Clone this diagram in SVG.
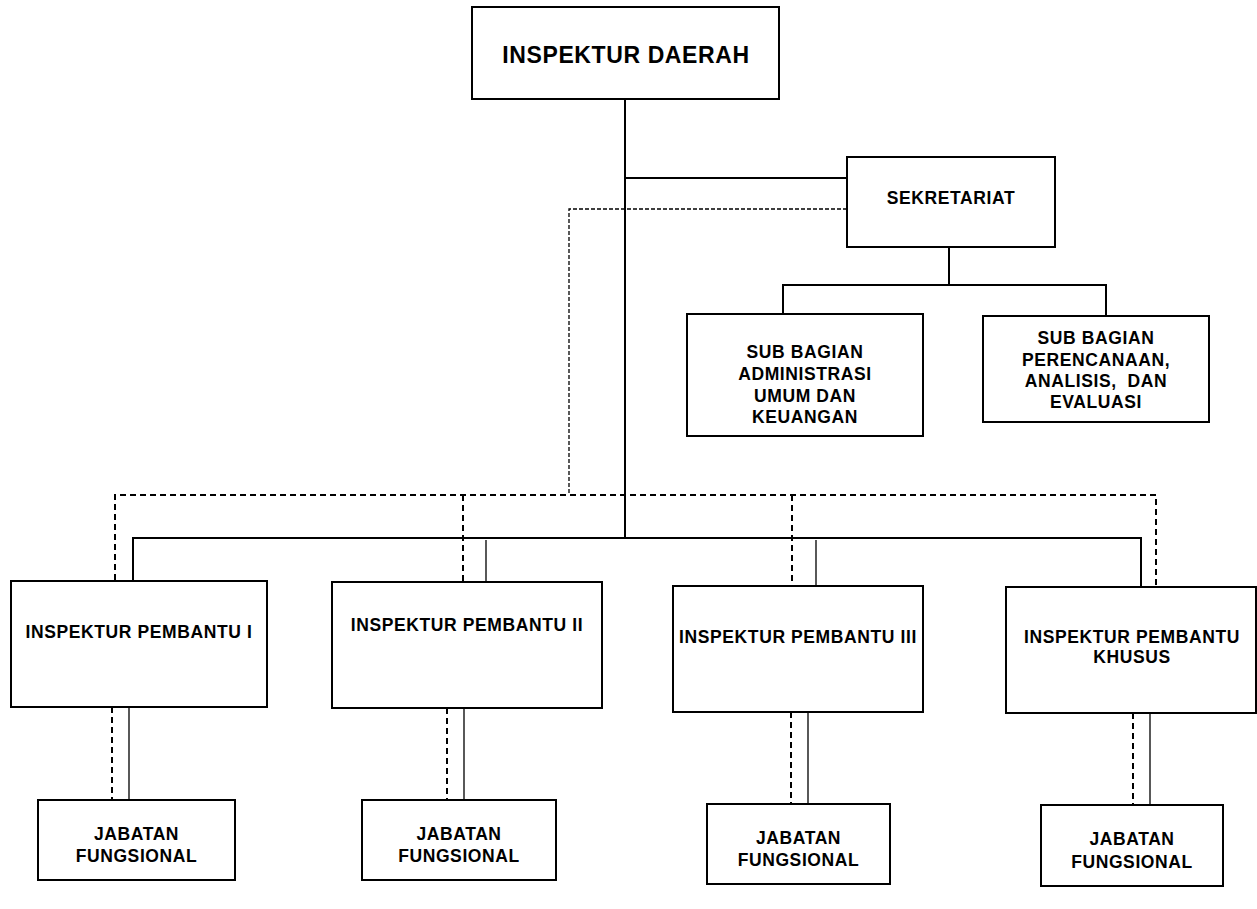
<svg xmlns="http://www.w3.org/2000/svg" width="1257" height="909" viewBox="0 0 1257 909">
<style>
.box{fill:#fff;stroke:#000;stroke-width:2}
.t{font-family:"Liberation Sans",Arial,sans-serif;font-weight:bold;fill:#000;text-anchor:middle;letter-spacing:0.6px}
.s{font-size:17.5px}
.solid{fill:none;stroke:#000;stroke-width:2}
.thin{fill:none;stroke:#000;stroke-width:1.3}
.dash{fill:none;stroke:#000;stroke-width:2;stroke-dasharray:6,4}
.dot{fill:none;stroke:#000;stroke-width:1.3;stroke-dasharray:4,2}
</style>
<rect width="1257" height="909" fill="#fff"/>
<g id="connectors">
<path class="solid" d="M625,99 V538 M625,178 H847 M133,581 V538 H1141 V587"/>
<path class="thin" d="M486,540 V582 M816,540 V586"/>
<path class="solid" d="M949,247 V285 M783,314 V285 H1106 V316"/>
<path class="dot" d="M847,209 H569 V495"/>
<path class="dash" d="M115,580 V495 H1156 L1156,590 M463,495 V582 M792,495 V586"/>
<path class="dash" d="M112,707 V800 M447,708 V800 M791,712 V804 M1133,713 V805"/>
<path class="thin" d="M129,707 V800 M464,708 V800 M808,712 V804 M1150,713 V805"/>
</g>
<g id="inspektur-daerah">
<rect class="box" x="472" y="7" width="307" height="92"/>
<text class="t" x="626" y="63" font-size="23">INSPEKTUR DAERAH</text>
</g>
<g id="sekretariat">
<rect class="box" x="847" y="157" width="208" height="90"/>
<text class="t s" x="951" y="204">SEKRETARIAT</text>
</g>
<g id="sub-bagian-umum">
<rect class="box" x="687" y="314" width="236" height="122"/>
<text class="t s" x="805" y="358">SUB BAGIAN</text>
<text class="t s" x="805" y="380">ADMINISTRASI</text>
<text class="t s" x="805" y="402">UMUM DAN</text>
<text class="t s" x="805" y="423">KEUANGAN</text>
</g>
<g id="sub-bagian-perencanaan">
<rect class="box" x="983" y="316" width="226" height="106"/>
<text class="t s" x="1096" y="344">SUB BAGIAN</text>
<text class="t s" x="1096" y="366">PERENCANAAN,</text>
<text class="t s" x="1096" y="387" xml:space="preserve">ANALISIS,  DAN</text>
<text class="t s" x="1096" y="408">EVALUASI</text>
</g>
<g id="pembantu-1">
<rect class="box" x="11" y="581" width="256" height="126"/>
<text class="t s" x="139" y="638">INSPEKTUR PEMBANTU I</text>
</g>
<g id="pembantu-2">
<rect class="box" x="332" y="582" width="270" height="126"/>
<text class="t s" x="467" y="631">INSPEKTUR PEMBANTU II</text>
</g>
<g id="pembantu-3">
<rect class="box" x="673" y="586" width="250" height="126"/>
<text class="t s" x="798" y="643">INSPEKTUR PEMBANTU III</text>
</g>
<g id="pembantu-khusus">
<rect class="box" x="1006" y="587" width="250" height="126"/>
<text class="t s" x="1132" y="643">INSPEKTUR PEMBANTU</text>
<text class="t s" x="1132" y="663">KHUSUS</text>
</g>
<g id="jabatan-1">
<rect class="box" x="38" y="800" width="197" height="80"/>
<text class="t s" x="136.500" y="840">JABATAN</text>
<text class="t s" x="136.500" y="862">FUNGSIONAL</text>
</g>
<g id="jabatan-2">
<rect class="box" x="362" y="800" width="194" height="80"/>
<text class="t s" x="459" y="840">JABATAN</text>
<text class="t s" x="459" y="862">FUNGSIONAL</text>
</g>
<g id="jabatan-3">
<rect class="box" x="707" y="804" width="183" height="80"/>
<text class="t s" x="798.500" y="844">JABATAN</text>
<text class="t s" x="798.500" y="866">FUNGSIONAL</text>
</g>
<g id="jabatan-4">
<rect class="box" x="1041" y="805" width="182" height="81"/>
<text class="t s" x="1132" y="845">JABATAN</text>
<text class="t s" x="1132" y="868">FUNGSIONAL</text>
</g>
</svg>
